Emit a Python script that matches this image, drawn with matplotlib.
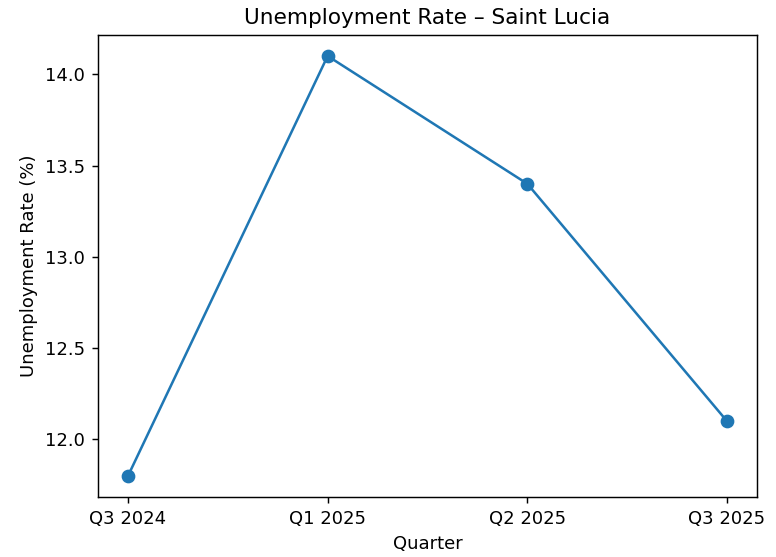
import matplotlib
matplotlib.use("Agg")
import matplotlib.pyplot as plt

quarters = ["Q3 2024", "Q1 2025", "Q2 2025", "Q3 2025"]
rates = [11.8, 14.1, 13.4, 12.1]

DPI = 130
fig = plt.figure(figsize=(776/DPI, 557/DPI), dpi=DPI)
ax = fig.add_axes([98/776, 60/557, 659/776, 462/557])
ax.plot(quarters, rates, marker="o", color="#1f77b4", linewidth=1.4, markersize=6.6)
ax.set_title("Unemployment Rate – Saint Lucia")
ax.set_xlabel("Quarter")
ax.set_ylabel("Unemployment Rate (%)")
fig.savefig("out.png", dpi=DPI)
